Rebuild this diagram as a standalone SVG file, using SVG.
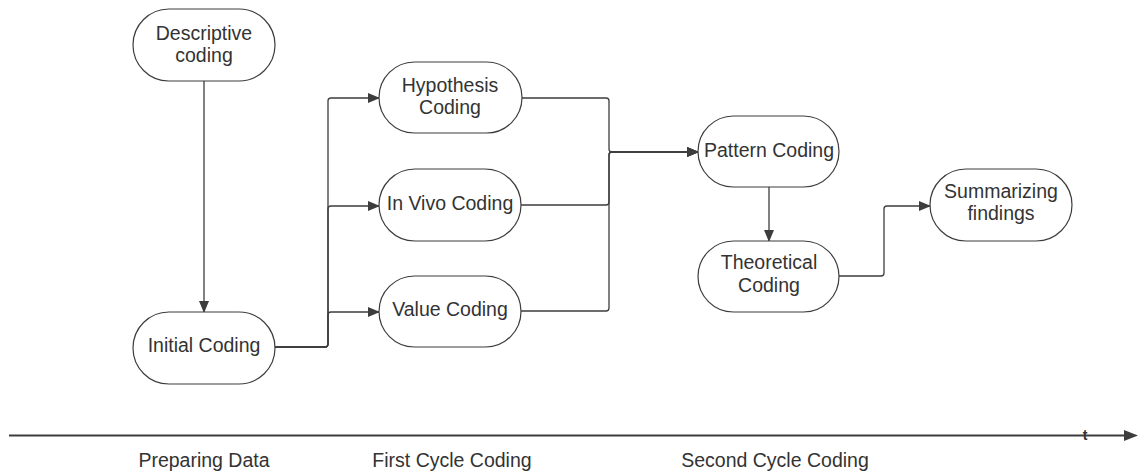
<svg xmlns="http://www.w3.org/2000/svg" width="1138" height="472" viewBox="0 0 1138 472">
<style>
.node rect{fill:#fff;stroke:#3d3d3d;stroke-width:1.2}
.node text,.lbl{font-family:"Liberation Sans",Arial,sans-serif;font-size:19.5px;fill:#333;text-anchor:middle}
.conn path{fill:none;stroke:#3d3d3d;stroke-width:1.3}
.axis{fill:none;stroke:#3d3d3d;stroke-width:2}
</style>
<defs>
<marker id="ah" markerWidth="12" markerHeight="10" refX="11" refY="5" orient="auto" markerUnits="userSpaceOnUse">
<path d="M0,0 L12,5 L0,10 z" fill="#3d3d3d"/>
</marker>
</defs>
<rect width="1138" height="472" fill="#fff"/>
<g class="conn">
<path d="M204,81 V312" marker-end="url(#ah)"/>
<path d="M275,347 H325 Q328,347 328,344 V101 Q328,98 331,98 H379" marker-end="url(#ah)"/>
<path d="M275,347 H325 Q328,347 328,344 V209 Q328,206 331,206 H379" marker-end="url(#ah)"/>
<path d="M275,347 H325 Q328,347 328,344 V315 Q328,312 331,312 H379" marker-end="url(#ah)"/>
<path d="M522,98 H606 Q609,98 609,101 V149 Q609,152 612,152 H698" marker-end="url(#ah)"/>
<path d="M521,205 H606 Q609,205 609,202 V155 Q609,152 612,152 H698" marker-end="url(#ah)"/>
<path d="M521,311 H606 Q609,311 609,308 V155 Q609,152 612,152 H698" marker-end="url(#ah)"/>
<path d="M769,187 V241" marker-end="url(#ah)"/>
<path d="M839,276 H881 Q884,276 884,273 V209 Q884,206 887,206 H930" marker-end="url(#ah)"/>
</g>
<g id="descriptive" class="node"><rect x="133" y="9" width="142" height="72" rx="36"/><text x="204" y="40">Descriptive</text><text x="204" y="62">coding</text></g>
<g id="initial" class="node"><rect x="133" y="312" width="142" height="72" rx="36"/><text x="204" y="352">Initial Coding</text></g>
<g id="hypothesis" class="node"><rect x="379" y="62" width="143" height="71" rx="35.5"/><text x="450" y="92">Hypothesis</text><text x="450" y="114">Coding</text></g>
<g id="invivo" class="node"><rect x="379" y="169" width="142" height="72" rx="36"/><text x="450" y="210">In Vivo Coding</text></g>
<g id="value" class="node"><rect x="379" y="276" width="142" height="71" rx="35.5"/><text x="450" y="316">Value Coding</text></g>
<g id="pattern" class="node"><rect x="698" y="116" width="141" height="71" rx="35.5"/><text x="769" y="157">Pattern Coding</text></g>
<g id="theoretical" class="node"><rect x="698" y="241" width="141" height="71" rx="35.5"/><text x="769" y="269">Theoretical</text><text x="769" y="292">Coding</text></g>
<g id="summarizing" class="node"><rect x="930" y="169" width="142" height="72" rx="36"/><text x="1001" y="198">Summarizing</text><text x="1001" y="220">findings</text></g>
<g id="timeline">
<path class="axis" d="M9,435.5 H1128"/>
<path d="M1124,430 L1138,435.5 L1124,441 z" fill="#3d3d3d"/>
<text x="1085" y="440" style="font-family:'Liberation Sans',Arial,sans-serif;font-size:14px;font-weight:bold;fill:#333;text-anchor:middle">t</text>
<text class="lbl" x="204" y="467">Preparing Data</text>
<text class="lbl" x="452" y="467">First Cycle Coding</text>
<text class="lbl" x="775" y="467">Second Cycle Coding</text>
</g>
</svg>
